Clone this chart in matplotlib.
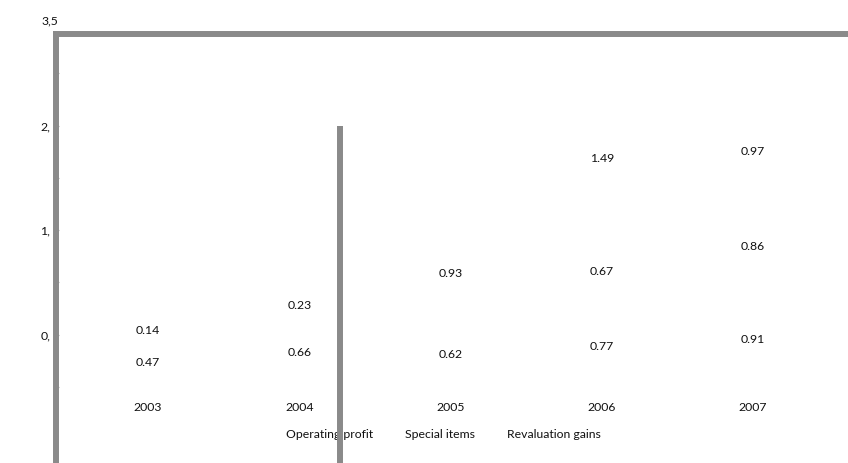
import matplotlib
matplotlib.use("Agg")
import matplotlib.pyplot as plt
from matplotlib.lines import Line2D
import numpy as np

plt.rcParams['font.family'] = ['Lato', 'DejaVu Sans']

# Data
years = ["2003", "2004", "2005", "2006", "2007"]
operating_profit = [0.47, 0.66, 0.62, 0.77, 0.91]
special_items = [0.14, 0.23, 0.93, 0.67, 0.86]
revaluation_gains = [0.0, 0.0, 0.0, 1.49, 0.97]
series_names = ["Operating profit", "Special items", "Revaluation gains"]
ytick_values = [0.5, 1.5, 2.5]
ytick_labels = ["0,", "1,", "2,"]
ytop_label = "3,5"

W, H = 848, 463
fig = plt.figure(figsize=(W / 100, H / 100), dpi=100)
ax = fig.add_axes([56 / W, 0, 1 - 56 / W, 1 - 34 / H])

grey = "#8a8a8a"
txt = "#111111"
fs = 8.8

x = np.arange(len(years))
series = [operating_profit, special_items, revaluation_gains]
bottom = np.zeros(len(years))
containers = []
for name, vals in zip(series_names, series):
    vals = np.array(vals)
    c = ax.bar(x, vals, 0.5, bottom=bottom, color="white", linewidth=0, label=name)
    labels = [f"{v:.2f}" if v > 0 else "" for v in vals]
    ax.bar_label(c, labels=labels, label_type="center", fontsize=fs, color=txt)
    containers.append(c)
    bottom += vals

ax.set_xlim(-0.608, 4.627)
ax.set_ylim(-0.7266, 3.375)

# Spines: thick grey left and top frame
for s in ["bottom", "right"]:
    ax.spines[s].set_visible(False)
for s in ["left", "top"]:
    ax.spines[s].set_color(grey)
    ax.spines[s].set_linewidth(4.3)

ax.set_xticks([])
ax.set_yticks(ytick_values, ytick_labels)
ax.set_yticks([0, 1, 2, 3], minor=True)
ax.tick_params(axis="y", which="both", direction="in", length=2, width=0.8,
               color="#b5b5b5", labelsize=fs, labelcolor=txt, pad=4.3)
ax.text(-14 / 792, 3.5, ytop_label, transform=ax.get_yaxis_transform(),
        ha="left", va="center", fontsize=fs, color=txt, clip_on=False)

# Category labels under the stacks
for xi, yr in zip(x, years):
    ax.text(xi, -0.2, yr, ha="center", va="center", fontsize=fs, color=txt)

leg = ax.legend(handles=containers, labels=series_names, ncol=3, frameon=False,
                handlelength=0, handletextpad=0, columnspacing=2.6,
                fontsize=fs, loc="center",
                bbox_to_anchor=(443.5 / W, 1 - 435 / H),
                bbox_transform=fig.transFigure)
for t in leg.get_texts():
    t.set_color(txt)

# Vertical separator line
fig.add_artist(Line2D([340 / W, 340 / W], [0, 1 - 126 / H],
                      transform=fig.transFigure, color=grey, linewidth=4.3,
                      solid_capstyle="butt"))

fig.savefig("out.png", dpi=100)
